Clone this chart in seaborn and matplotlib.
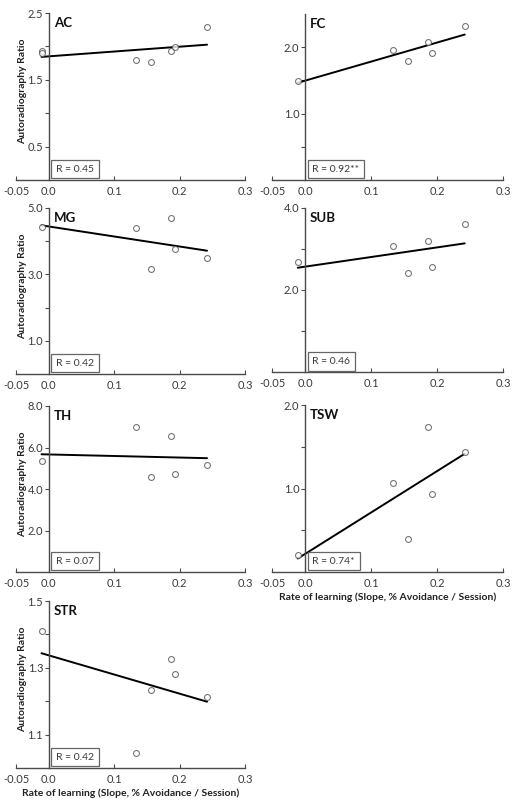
import matplotlib
matplotlib.use("Agg")
import matplotlib.pyplot as plt
import seaborn as sns
import pandas as pd

# learning rate of each animal (slope, % avoidance / session)
rate = [-0.011, 0.134, 0.156, 0.187, 0.193, 0.242]
rate_ac = [-0.011, -0.011, 0.134, 0.156, 0.187, 0.193, 0.242]

# autoradiography ratio per region
ac = [1.93, 1.90, 1.80, 1.765, 1.93, 1.985, 2.29]
fc = [1.495, 1.965, 1.795, 2.075, 1.915, 2.315]
mg = [4.44, 4.41, 3.16, 4.69, 3.755, 3.49]
sub = [2.69, 3.08, 2.41, 3.19, 2.55, 3.61]
th = [5.33, 7.0, 4.56, 6.54, 4.73, 5.16]
tsw = [0.204, 1.06, 0.392, 1.736, 0.94, 1.432]
strm = [1.409, 1.044, 1.235, 1.325, 1.282, 1.212]

r_labels = ["R = 0.45", "R = 0.92**", "R = 0.42", "R = 0.46", "R = 0.07", "R = 0.74*", "R = 0.42"]
x_ticks = [-0.05, 0.0, 0.1, 0.2, 0.3]
x_ticklabels = ["-0.05", "0.0", "0.1", "0.2", "0.3"]

sns.set_style("ticks")
plt.rcParams["font.family"] = ["Lato", "DejaVu Sans"]

fig = plt.figure(figsize=(5.14, 8.10), dpi=100)
W, H = 514, 810

# name, x, y, (left, top, right, bottom) in px, ylim, yticks, ytick labels
panels = [
    ("AC", rate_ac, ac, (16, 13, 245, 180), (0, 2.5), [0.5, 1.0, 1.5, 2.0, 2.5], ["0.5", "", "1.5", "", "2.5"]),
    ("FC", rate, fc, (272, 14, 503, 180), (0, 2.5), [0.5, 1.0, 1.5, 2.0], ["", "1.0", "", "2.0"]),
    ("MG", rate, mg, (16, 208, 245, 374), (0, 5), [1, 2, 3, 4, 5], ["1.0", "", "3.0", "", "5.0"]),
    ("SUB", rate, sub, (272, 208, 503, 372), (0, 4), [1, 2, 3, 4], ["", "2.0", "", "4.0"]),
    ("TH", rate, th, (16, 406, 245, 572), (0, 8), [2, 4, 6, 8], ["2.0", "4.0", "6.0", "8.0"]),
    ("TSW", rate, tsw, (272, 405, 503, 572), (0, 2), [0.5, 1.0, 1.5, 2.0], ["", "1.0", "", "2.0"]),
    ("STR", rate, strm, (16, 601, 245, 768), (1.0, 1.5), [1.1, 1.2, 1.3, 1.4, 1.5], ["1.1", "", "1.3", "", "1.5"]),
]

spine_col = "#4a4a4a"
text_col = "#3a3a3a"

for i, (name, xs, ys, box, ylim, yt, ytl) in enumerate(panels):
    l, t, r, b = box
    ax = fig.add_axes([l / W, 1 - b / H, (r - l) / W, (b - t) / H])
    df = pd.DataFrame({"rate": xs, "ratio": ys})
    sns.regplot(data=df, x="rate", y="ratio", ax=ax, ci=None, truncate=True,
                scatter_kws=dict(s=18, facecolors="white", edgecolors="#555555", linewidths=0.8, zorder=3),
                line_kws=dict(color="black", lw=1.4, zorder=2))
    ax.set_xlim(-0.05, 0.3)
    ax.set_ylim(*ylim)
    ax.spines["top"].set_visible(False)
    ax.spines["right"].set_visible(False)
    ax.spines["left"].set_position(("data", 0))
    for s in ("left", "bottom"):
        ax.spines[s].set_color(spine_col)
        ax.spines[s].set_linewidth(1.0)
    ax.set_xticks(x_ticks)
    ax.set_xticklabels(x_ticklabels)
    ax.set_yticks(yt)
    ax.set_yticklabels(ytl)
    ax.tick_params(axis="x", direction="in", length=3, width=0.8, colors=spine_col,
                   labelcolor=text_col, labelsize=8, pad=4)
    ax.tick_params(axis="y", direction="out", length=3, width=0.8, colors=spine_col,
                   labelcolor=text_col, labelsize=8, pad=1)
    ax.patch.set_alpha(0)

    ax.text(0.165, 0.975, name, transform=ax.transAxes, fontsize=9.5, fontweight="bold",
            color="#111111", va="top", ha="left")
    ax.text(0.175, 0.065, r_labels[i], transform=ax.transAxes, fontsize=7.5, color=text_col,
            va="center", ha="left",
            bbox=dict(boxstyle="square,pad=0.45", fc="white", ec="#666666", lw=0.9))

    if l < 100:
        ax.set_ylabel("Autoradiography Ratio", fontsize=7.5, fontweight="bold", color="#222222")
        ax.yaxis.set_label_coords(0.05, 0.53)
    else:
        ax.set_ylabel("")
    if name in ("TSW", "STR"):
        ax.set_xlabel("Rate of learning (Slope, % Avoidance / Session)", fontsize=7.5,
                      fontweight="bold", color="#222222", labelpad=3)
    else:
        ax.set_xlabel("")

fig.savefig("out.png", dpi=100)
